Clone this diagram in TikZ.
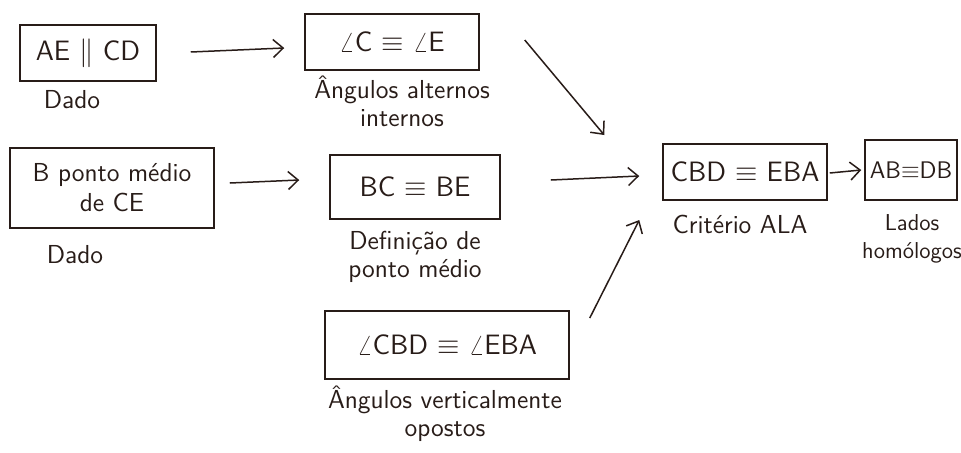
\documentclass[tikz,border=0pt]{standalone}
\usetikzlibrary{positioning, arrows.meta, calc}

\begin{document}
\begin{tikzpicture}[
    x=0.5pt, y=-0.5pt,
    >={Straight Barb[length=5pt, width=9pt]}, % offene Pfeilspitzen
    % --- Farben ---
    ink/.style={draw={rgb,255:red,40;green,28;blue,24}, text={rgb,255:red,40;green,28;blue,24}},
    % --- Knotenstile ---
    stmt/.style={ink, line width=0.75pt, align=center, inner sep=2pt, font=\sffamily\fontsize{14}{16}\selectfont},
    reason/.style={ink, draw=none, align=center, inner sep=1pt, font=\sffamily\fontsize{13}{14}\selectfont},
    % --- Linienstile ---
    edge_style/.style={->, ink, line width=0.75pt}
]
    \useasboundingbox (0,0) rectangle (961,452);

    % ===========================
    % 1. AUSSAGEN (Kästen)
    % ===========================
    \node[stmt, minimum width=68pt, minimum height=28pt] (par)   at (88, 53)   {AE $\parallel$ CD};
    \node[stmt, minimum width=87pt, minimum height=28pt] (alt)   at (392, 42)  {$\angle$C $\equiv$ $\angle$E};
    \node[stmt, minimum width=102pt, minimum height=40pt, font=\sffamily\fontsize{13}{15}\selectfont] (mid) at (112, 188) {B ponto médio\\de CE};
    \node[stmt, minimum width=85pt, minimum height=32pt] (seg)   at (415, 187) {BC $\equiv$ BE};
    \node[stmt, minimum width=122pt, minimum height=34pt] (vert) at (447, 345) {$\angle$CBD $\equiv$ $\angle$EBA};
    \node[stmt, minimum width=82pt, minimum height=28pt] (tri)   at (745, 172) {CBD $\equiv$ EBA};
    \node[stmt, minimum width=46pt, minimum height=30pt, inner sep=1pt, font=\sffamily\fontsize{12}{14}\selectfont] (res) at (911, 170) {AB$\equiv$DB};

    % ===========================
    % 2. BEGRÜNDUNGEN
    % ===========================
    \node[reason] (parR)  at (72, 100)  {Dado};
    \node[reason] (altR)  at (402, 101) {Ângulos alternos\\internos};
    \node[reason] (midR)  at (75, 255)  {Dado};
    \node[reason] (segR)  at (415, 257) {Definição de\\ponto médio};
    \node[reason] (vertR) at (445, 414) {Ângulos verticalmente\\opostos};
    \node[reason] (triR)  at (740, 224) {Critério ALA};
    \node[reason, font=\sffamily\fontsize{11.5}{14}\selectfont] (resR) at (912, 239) {Lados\\homólogos};

    % ===========================
    % 3. PFEILE
    % ===========================
    \draw[edge_style] ($(par.east)+(34,-1)$) -- ($(alt.west)+(-20,6)$);
    \draw[edge_style] ($(alt.east)+(45,-2)$) -- ($(tri.west)+(-58,-37)$);
    \draw[edge_style] ($(mid.east)+(15,-5)$) -- ($(seg.west)+(-30,-7)$);
    \draw[edge_style] ($(seg.east)+(50,-7)$) -- ($(tri.west)+(-23,4)$);
    \draw[edge_style] ($(vert.east)+(20,-27)$) -- ($(tri.west)+(-23,48)$);
    \draw[edge_style] ($(tri.east)+(2,1)$) -- ($(res.west)+(-3,0)$);

\end{tikzpicture}
\end{document}
